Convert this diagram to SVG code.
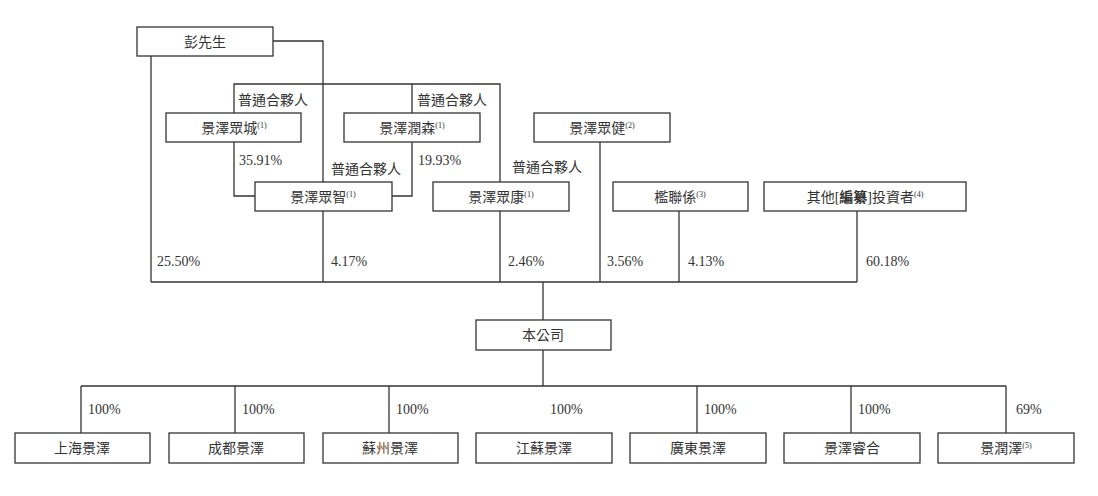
<svg xmlns="http://www.w3.org/2000/svg" width="1098" height="496" viewBox="0 0 1098 496">
<style>
.box{fill:#fff;stroke:#333;stroke-width:1.3}
.ln{fill:none;stroke:#333;stroke-width:1.3}
.t{font-family:"Liberation Serif","Noto Sans CJK TC",serif;font-size:14px;fill:#333}
.c{text-anchor:middle}
.s{font-size:8px}
</style>
<rect width="1098" height="496" fill="#fff"/>
<g id="connectors">
<polyline class="ln" points="273,41 323,41 323,182"/>
<line class="ln" x1="151" y1="56" x2="151" y2="282"/>
<polyline class="ln" points="234,113 234,84 500,84 500,182"/>
<line class="ln" x1="412" y1="84" x2="412" y2="113"/>
<polyline class="ln" points="234,142 234,196 255,196"/>
<polyline class="ln" points="412,142 412,196 392,196"/>
<line class="ln" x1="323" y1="211" x2="323" y2="282"/>
<line class="ln" x1="500" y1="211" x2="500" y2="282"/>
<line class="ln" x1="600" y1="142" x2="600" y2="282"/>
<line class="ln" x1="679" y1="211" x2="679" y2="282"/>
<line class="ln" x1="857" y1="211" x2="857" y2="282"/>
<line class="ln" x1="151" y1="282" x2="857" y2="282"/>
<line class="ln" x1="543" y1="282" x2="543" y2="320"/>
<line class="ln" x1="543" y1="350" x2="543" y2="386"/>
<line class="ln" x1="81" y1="386" x2="1006" y2="386"/>
<line class="ln" x1="81" y1="386" x2="81" y2="433"/>
<line class="ln" x1="235" y1="386" x2="235" y2="433"/>
<line class="ln" x1="389" y1="386" x2="389" y2="433"/>
<line class="ln" x1="697" y1="386" x2="697" y2="433"/>
<line class="ln" x1="851" y1="386" x2="851" y2="433"/>
<line class="ln" x1="1006" y1="386" x2="1006" y2="433"/>
<text class="t" x="238" y="105">普通合夥人</text>
<text class="t" x="417" y="105">普通合夥人</text>
<text class="t" x="331" y="174">普通合夥人</text>
<text class="t" x="512" y="172">普通合夥人</text>
<text class="t" x="239" y="165">35.91%</text>
<text class="t" x="418" y="165">19.93%</text>
<text class="t" x="157" y="266">25.50%</text>
<text class="t" x="331" y="266">4.17%</text>
<text class="t" x="508" y="266">2.46%</text>
<text class="t" x="607" y="266">3.56%</text>
<text class="t" x="688" y="266">4.13%</text>
<text class="t" x="866" y="266">60.18%</text>
<text class="t" x="88" y="414">100%</text>
<text class="t" x="242" y="414">100%</text>
<text class="t" x="396" y="414">100%</text>
<text class="t" x="550" y="414">100%</text>
<text class="t" x="704" y="414">100%</text>
<text class="t" x="858" y="414">100%</text>
<text class="t" x="1016" y="414">69%</text>
</g>
<g id="peng"><rect class="box" x="137" y="27" width="136" height="29"/><text class="t c" x="205" y="47">彭先生</text></g>
<g id="jzzc"><rect class="box" x="166" y="113" width="135" height="29"/><text class="t c" x="234" y="133">景澤眾城<tspan class="s" dy="-5">(1)</tspan></text></g>
<g id="jzrs"><rect class="box" x="344" y="113" width="136" height="29"/><text class="t c" x="412" y="133">景澤潤森<tspan class="s" dy="-5">(1)</tspan></text></g>
<g id="jzzj2"><rect class="box" x="534" y="113" width="136" height="29"/><text class="t c" x="602" y="133">景澤眾健<tspan class="s" dy="-5">(2)</tspan></text></g>
<g id="jzzz"><rect class="box" x="255" y="182" width="137" height="29"/><text class="t c" x="323" y="202">景澤眾智<tspan class="s" dy="-5">(1)</tspan></text></g>
<g id="jzzk"><rect class="box" x="433" y="182" width="136" height="29"/><text class="t c" x="501" y="202">景澤眾康<tspan class="s" dy="-5">(1)</tspan></text></g>
<g id="klx"><rect class="box" x="613" y="182" width="135" height="29"/><text class="t c" x="680" y="202">檻聯係<tspan class="s" dy="-5">(3)</tspan></text></g>
<g id="others"><rect class="box" x="764" y="182" width="202" height="29"/><text class="t c" x="865" y="202">其他[<tspan font-weight="bold">編纂</tspan>]投資者<tspan class="s" dy="-5">(4)</tspan></text></g>
<g id="company"><rect class="box" x="476" y="320" width="135" height="30"/><text class="t c" x="543" y="340">本公司</text></g>
<g id="sh"><rect class="box" x="15" y="433" width="135" height="30"/><text class="t c" x="82" y="453">上海景澤</text></g>
<g id="cd"><rect class="box" x="169" y="433" width="135" height="30"/><text class="t c" x="236" y="453">成都景澤</text></g>
<g id="sz"><rect class="box" x="323" y="433" width="135" height="30"/><text class="t c" x="390" y="453">蘇<tspan fill="#7a4a1e">州</tspan>景澤</text></g>
<g id="js"><rect class="box" x="476" y="433" width="136" height="30"/><text class="t c" x="544" y="453">江蘇景澤</text></g>
<g id="gd"><rect class="box" x="630" y="433" width="136" height="30"/><text class="t c" x="698" y="453">廣東景澤</text></g>
<g id="jzrh"><rect class="box" x="784" y="433" width="136" height="30"/><text class="t c" x="852" y="453">景澤睿合</text></g>
<g id="jrz"><rect class="box" x="938" y="433" width="136" height="30"/><text class="t c" x="1006" y="453">景潤澤<tspan class="s" dy="-5">(5)</tspan></text></g>
</svg>
